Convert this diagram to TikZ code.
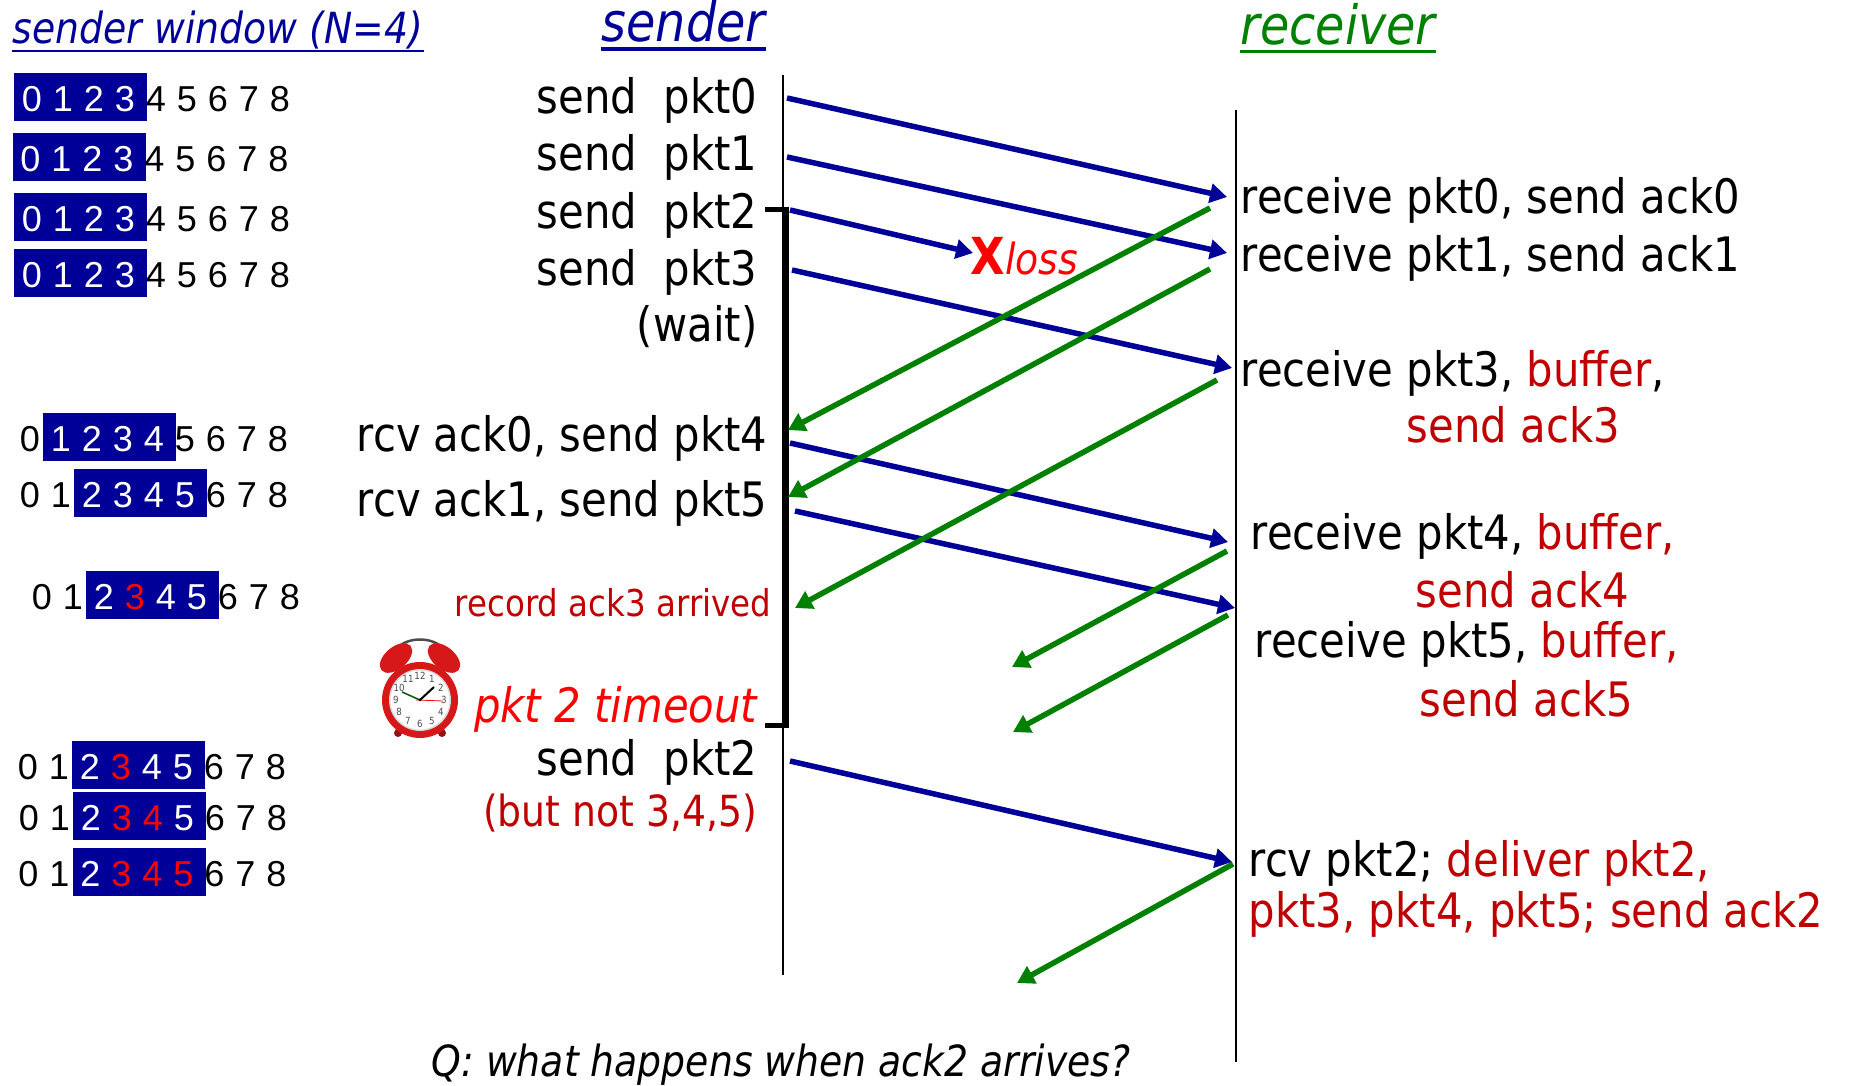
\documentclass[tikz,border=0pt]{standalone}
\usepackage{fontspec}
\setmainfont{DejaVu Sans}[FakeStretch=0.88]
\newfontfamily\digitfont{Liberation Sans}
\usepackage{xcolor}
\usepackage{tikz}
\usetikzlibrary{arrows.meta, calc}

\definecolor{pktblue}{RGB}{0,0,153}
\definecolor{ackgreen}{RGB}{0,128,0}
\definecolor{darkred}{RGB}{192,0,0}
\definecolor{brightred}{RGB}{255,0,0}
\definecolor{clockred}{RGB}{214,24,24}

\newcommand{\bodysz}{\fontsize{13.5}{16}\selectfont}
\newcommand{\headsz}{\fontsize{15.4}{18}\selectfont}
\newcommand{\midsz}{\fontsize{12.2}{14}\selectfont}
\newcommand{\smallsz}{\fontsize{10.5}{12}\selectfont}

% one row of sequence numbers: name, x of 0, baseline, window base, last red
\newcommand{\winrow}[5]{%
  \fill[pktblue] (#2+31*#4+46.5+2-66.5, #3-39) rectangle ++(133,48);
  \foreach \d in {0,...,8}{
    \ifnum\d<#4\relax \def\dcol{black}\else
      \ifnum\d>\numexpr#4+3\relax \def\dcol{black}\else
        \def\dcol{white}%
        \ifnum\d>2 \ifnum\d<\numexpr#5+1\relax \def\dcol{brightred}\fi\fi
      \fi
    \fi
    \node[digit, text=\dcol] (#1-\d) at (#2+31*\d, #3) {\d};
  }
}

\begin{document}
\begin{tikzpicture}[x=0.01cm, y=-0.01cm,
    lbl/.style={inner sep=0pt, font=\bodysz},
    snd/.style={lbl, anchor=base east},
    rcv/.style={lbl, anchor=base west},
    digit/.style={inner sep=0pt, anchor=base, font=\digitfont\fontsize{10.25}{12}\selectfont},
    pkt/.style={pktblue, line width=0.055cm, -{Triangle[length=0.17cm, width=0.19cm]}},
    ack/.style={ackgreen, line width=0.055cm, -{Triangle[length=0.17cm, width=0.19cm]}},
    timeline/.style={line width=0.015cm}]
    \useasboundingbox (0,0) rectangle (1851,1086);

    % Headers
    \node[inner sep=0pt, anchor=base west, font=\midsz\itshape, text=pktblue] (wintitle) at (12,44) {sender window (N=4)};
    \draw[pktblue, line width=0.025cm] ($(wintitle.base west)+(0,7)$) -- ($(wintitle.base east)+(0,7)$);
    \node[inner sep=0pt, anchor=base west, font=\headsz\itshape, text=pktblue] (sendhead) at (601,42) {sender};
    \draw[pktblue, line width=0.04cm] ($(sendhead.base west)+(0,7)$) -- ($(sendhead.base east)+(0,7)$);
    \node[inner sep=0pt, anchor=base west, font=\headsz\itshape, text=ackgreen] (rcvhead) at (1240,45) {receiver};
    \draw[ackgreen, line width=0.03cm] ($(rcvhead.base west)+(0,7)$) -- ($(rcvhead.base east)+(0,7)$);

    % Sender window
    \winrow{w1}{32}{112}{0}{0}
    \winrow{w2}{30.5}{172}{0}{0}
    \winrow{w3}{32}{232}{0}{0}
    \winrow{w4}{32}{288}{0}{0}
    \winrow{w5}{30}{452}{1}{0}
    \winrow{w6}{30}{508}{2}{0}
    \winrow{w7}{42}{610}{2}{3}
    \winrow{w8}{28}{780}{2}{3}
    \winrow{w9}{29}{831}{2}{4}
    \winrow{w10}{28.5}{887}{2}{5}

    % Sender events
    \node[snd] (sp0) at (758,114) {send\ \ pkt0};
    \node[snd] (sp1) at (758,171) {send\ \ pkt1};
    \node[snd] (sp2) at (758,229) {send\ \ pkt2};
    \node[snd] (sp3) at (758,286) {send\ \ pkt3};
    \node[snd] (wait) at (758,342) {(wait)};
    \node[snd] (ra0) at (768,452) {rcv ack0, send pkt4};
    \node[snd] (ra1) at (768,517) {rcv ack1, send pkt5};
    \node[snd, font=\smallsz, text=darkred] (rec3) at (772,617) {record ack3 arrived};
    \node[snd, font=\bodysz\itshape, text=brightred] (tout) at (758,723) {pkt 2 timeout};
    \node[snd] (resend) at (758,776) {send\ \ pkt2};
    \node[snd, font=\midsz, text=darkred] (notthree) at (758,827) {(but not 3,4,5)};

    % Receiver events
    \node[rcv] (rp0) at (1240,214) {receive pkt0, send ack0};
    \node[rcv] (rp1) at (1240,272) {receive pkt1, send ack1};
    \node[rcv] (rp3) at (1240,387) {receive pkt3, \textcolor{darkred}{buffer},};
    \node[rcv, text=darkred] (sa3) at (1406,443) {send ack3};
    \node[rcv] (rp4) at (1250,550) {receive pkt4, \textcolor{darkred}{buffer,}};
    \node[rcv, text=darkred] (sa4) at (1415,608) {send ack4};
    \node[rcv] (rp5) at (1254,658) {receive pkt5, \textcolor{darkred}{buffer,}};
    \node[rcv, text=darkred] (sa5) at (1419,717) {send ack5};
    \node[rcv] (rp2) at (1248,877) {rcv pkt2; \textcolor{darkred}{deliver pkt2,}};
    \node[rcv, text=darkred] (dlv) at (1248,928) {pkt3, pkt4, pkt5; send ack2};

    % Question
    \node[inner sep=0pt, anchor=base west, font=\midsz\itshape] (quest) at (431,1077) {Q: what happens when ack2 arrives?};

    % Time lines
    \coordinate (stop) at (783,75);
    \coordinate (sbot) at (783,975);
    \coordinate (rtop) at (1236,110);
    \coordinate (rbot) at (1236,1062);
    \draw[timeline] (stop) -- (sbot);
    \draw[timeline] (rtop) -- (rbot);

    % Timer bracket
    \coordinate (tstart) at (765,210);
    \coordinate (tend) at (765,726);
    \draw[line width=0.05cm] (tstart) -| (786,726) -- (tend);

    % Packets
    \coordinate (s0) at (787,98);   \coordinate (r0) at (1227,197);
    \coordinate (s1) at (787,157);  \coordinate (r1) at (1227,253);
    \coordinate (s2) at (790,210);  \coordinate (lost) at (973,253);
    \coordinate (s3) at (792,270);  \coordinate (r3) at (1232,368);
    \coordinate (s4) at (790,443);  \coordinate (r4) at (1228,542);
    \coordinate (s5) at (795,511);  \coordinate (r5) at (1235,608);
    \coordinate (s2b) at (790,761); \coordinate (r2b) at (1232,862);
    \foreach \a/\b in {s0/r0, s1/r1, s2/lost, s3/r3, s4/r4, s5/r5, s2b/r2b}
      \draw[pkt] (\a) -- (\b);

    \node[inner sep=0pt, anchor=base west, font=\midsz, text=brightred] (loss) at (970,275)
      {{\fontsize{14.5}{16}\selectfont\bfseries X}\itshape loss};

    % Acks
    \coordinate (a0) at (1210,208); \coordinate (b0) at (788,430);
    \coordinate (a1) at (1210,269); \coordinate (b1) at (788,497);
    \coordinate (a3) at (1217,380); \coordinate (b3) at (795,608);
    \coordinate (a4) at (1227,551); \coordinate (b4) at (1012,667);
    \coordinate (a5) at (1228,615); \coordinate (b5) at (1013,732);
    \coordinate (a2) at (1233,864); \coordinate (b2) at (1017,983);
    \foreach \a/\b in {a0/b0, a1/b1, a3/b3, a4/b4, a5/b5, a2/b2}
      \draw[ack] (\a) -- (\b);

    % Alarm clock
    \begin{scope}[shift={(420,700)}]
      \draw[line width=0.025cm, gray!60!black] (-24,-50) .. controls (-15,-64) and (15,-64) .. (24,-50);
      \fill[clockred] (-24,-42) ellipse [x radius=19, y radius=11, rotate=40];
      \fill[clockred] (24,-42) ellipse [x radius=19, y radius=11, rotate=-40];
      \fill[clockred!70!black] (-22,33) circle (4);
      \fill[clockred!70!black] (22,33) circle (4);
      \fill[clockred] (0,0) circle (38);
      \fill[gray!30] (0,0) circle (31);
      \fill[white] (0,0) circle (29.5);
      \foreach \h in {1,...,12}
        \node[inner sep=0pt, font=\fontsize{2.8}{3}\selectfont, text=gray!60!black] (h\h) at ({30*\h-90}:24) {\h};
      \draw[line width=0.02cm] (0,0) -- (14,-13);
      \draw[line width=0.015cm, green!35!black] (0,0) -- (-18,-8);
      \draw[line width=0.008cm, red] (-4,0) -- (23,1);
      \fill[black] (0,0) circle (1.5);
    \end{scope}
\end{tikzpicture}
\end{document}
